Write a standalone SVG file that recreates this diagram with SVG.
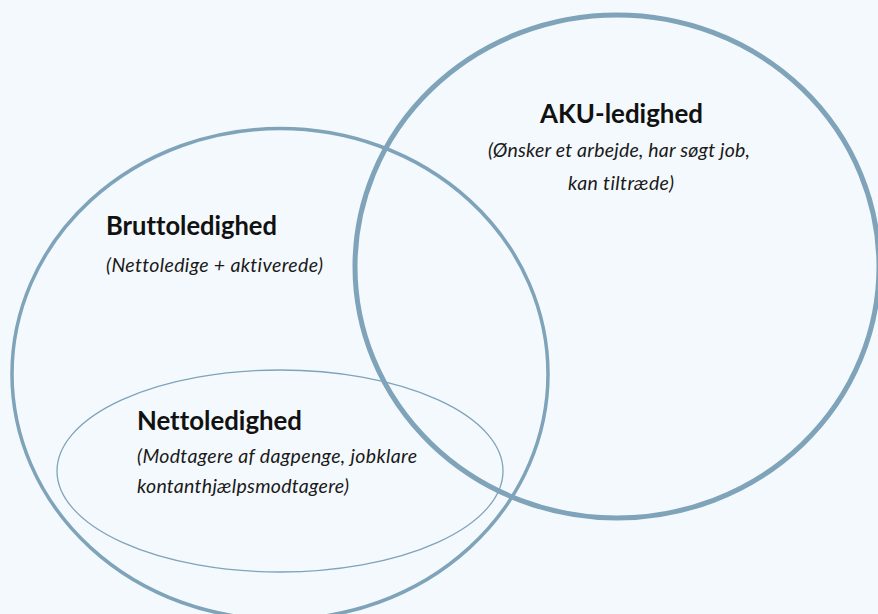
<svg xmlns="http://www.w3.org/2000/svg" width="878" height="614" viewBox="0 0 878 614">
<style>
.bg{fill:#f4f9fd}
.ring{fill:none;stroke:#7fa3b9}
text{font-variant-ligatures:none;font-feature-settings:"liga" 0,"dlig" 0}
.title{font-family:Lato,"Liberation Sans",sans-serif;font-weight:bold;font-size:26px;fill:#111}
.sub{font-family:Lato,"Liberation Sans",sans-serif;font-style:italic;font-size:19.5px;fill:#1a1a1a}
</style>
<rect class="bg" x="0" y="0" width="878" height="614"/>
<g id="connectors"></g>
<g id="bruttoledighed">
<ellipse class="ring" cx="280" cy="374" rx="268" ry="245.5" stroke-width="3.5"/>
<text class="title" x="106" y="235" textLength="171" lengthAdjust="spacingAndGlyphs">Bruttoledighed</text>
<text class="sub" x="106" y="272" textLength="217">(Nettoledige + aktiverede)</text>
</g>
<g id="aku-ledighed">
<ellipse class="ring" cx="617" cy="266.5" rx="262" ry="251.5" stroke-width="5"/>
<text class="title" x="540" y="123" textLength="163" lengthAdjust="spacingAndGlyphs">AKU-ledighed</text>
<text class="sub" x="488" y="157" textLength="262">(Ønsker et arbejde, har søgt job,</text>
<text class="sub" x="568" y="190" textLength="106">kan tiltræde)</text>
</g>
<g id="nettoledighed">
<ellipse class="ring" cx="280" cy="471" rx="223" ry="101" stroke-width="1.3"/>
<text class="title" x="137" y="430" textLength="165" lengthAdjust="spacingAndGlyphs">Nettoledighed</text>
<text class="sub" x="137" y="463" textLength="280">(Modtagere af dagpenge, jobklare</text>
<text class="sub" x="137" y="493" textLength="212">kontanthjælpsmodtagere)</text>
</g>
</svg>
